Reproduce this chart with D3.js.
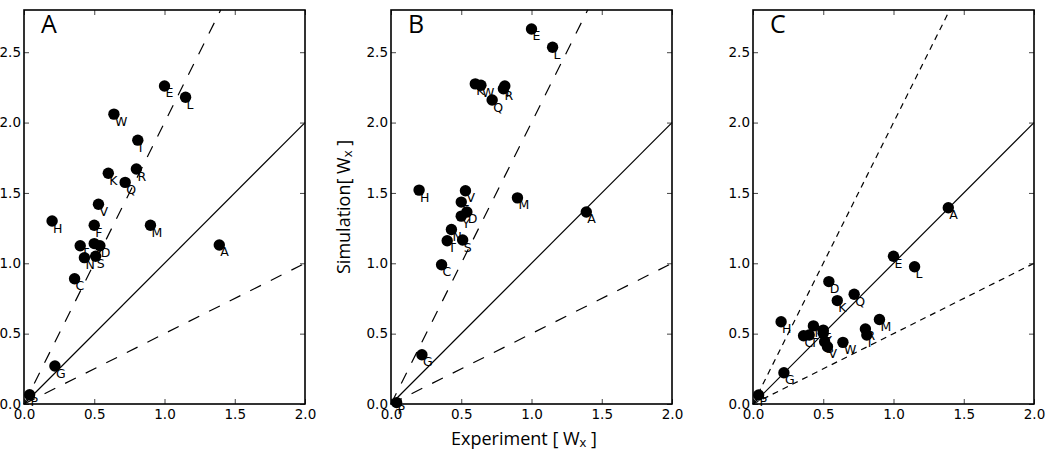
<!DOCTYPE html>
<html>
<head>
<meta charset="utf-8">
<script src="https://cdn.jsdelivr.net/npm/d3@7"></script>
<style>
  html, body { margin: 0; padding: 0; background: #fff; }
  svg { display: block; }
</style>
</head>
<body>
<svg id="chart" width="1050" height="454"></svg>
<script>
// ---- data ----
const residues   = ["A","C","D","E","F","G","H","I","K","L","M","N","P","Q","R","S","T","V","W","Y"];
const experiment = [1.39,0.36,0.54,1.00,0.50,0.22,0.20,0.81,0.60,1.15,0.90,0.43,0.04,0.72,0.80,0.51,0.40,0.53,0.64,0.50];
const simA = [1.13,0.89,1.125,2.26,1.27,0.27,1.30,1.875,1.64,2.18,1.27,1.04,0.066,1.575,1.67,1.05,1.125,1.42,2.06,1.14];
const simB = [1.365,0.99,1.365,2.665,1.435,0.35,1.52,2.26,2.275,2.535,1.465,1.24,0.01,2.16,2.24,1.165,1.16,1.515,2.265,1.335];
const simC = [1.395,0.485,0.87,1.05,0.525,0.222,0.585,0.49,0.735,0.975,0.60,0.555,0.064,0.78,0.533,0.443,0.49,0.407,0.438,0.502];
const panelNames = ["A","B","C"];
const panelSims  = [simA, simB, simC];
const refSlopes  = [2, 1, 0.5];
const xTicks = [0, 0.5, 1.0, 1.5, 2.0];
const yTicks = [0, 0.5, 1.0, 1.5, 2.0, 2.5];
const xDomain = [0, 2];
const yDomain = [0, 2.8];

// ---- layout ----
const svg = d3.select("#chart");
const lefts = [24, 391, 753];
const pw = 281, plotTop = 10, plotBottom = 404;
const dashStyles = ["12,11", "12,11", "6,5"];
const tickFont = "'DejaVu Sans', sans-serif";

panelNames.forEach((name, pi) => {
  const x = d3.scaleLinear().domain(xDomain).range([lefts[pi], lefts[pi] + pw]);
  const y = d3.scaleLinear().domain(yDomain).range([plotBottom, plotTop]);
  const g = svg.append("g");

  // reference lines
  refSlopes.forEach(s => {
    const xEnd = Math.min(xDomain[1], yDomain[1] / s);
    g.append("line")
      .attr("x1", x(0)).attr("y1", y(0))
      .attr("x2", x(xEnd)).attr("y2", y(xEnd * s))
      .attr("stroke", "#000").attr("stroke-width", 1.2)
      .attr("stroke-dasharray", s === 1 ? null : dashStyles[pi]);
  });

  // axes (inward ticks on all sides)
  const fmt = d3.format(".1f");
  const axB = g.append("g").attr("transform", `translate(0,${plotBottom})`)
    .call(d3.axisBottom(x).tickValues(xTicks).tickFormat(fmt).tickSize(-5).tickPadding(5));
  const axL = g.append("g").attr("transform", `translate(${lefts[pi]},0)`)
    .call(d3.axisLeft(y).tickValues(yTicks).tickFormat(fmt).tickSize(-5).tickPadding(3));
  const axT = g.append("g").attr("transform", `translate(0,${plotTop})`)
    .call(d3.axisTop(x).tickValues(xTicks).tickFormat("").tickSize(-5));
  const axR = g.append("g").attr("transform", `translate(${lefts[pi] + pw},0)`)
    .call(d3.axisRight(y).tickValues(yTicks).tickFormat("").tickSize(-5));
  [axB, axL, axT, axR].forEach(a => {
    a.select(".domain").remove();
    a.selectAll(".tick line").attr("stroke", "#444").attr("stroke-width", 1);
    a.selectAll("text").attr("font-family", tickFont).attr("font-size", 13.5).attr("fill", "#000");
  });

  // frame
  g.append("rect")
    .attr("x", lefts[pi]).attr("y", plotTop)
    .attr("width", pw).attr("height", plotBottom - plotTop)
    .attr("fill", "none").attr("stroke", "#000").attr("stroke-width", 1.6);

  // points
  const sims = panelSims[pi];
  const pts = residues.map((r, i) => ({ r, ex: experiment[i], sim: sims[i] }));
  g.selectAll("circle.pt").data(pts).join("circle")
    .attr("class", "pt")
    .attr("cx", d => x(d.ex)).attr("cy", d => y(d.sim))
    .attr("r", 5.7).attr("fill", "#000");
  g.selectAll("text.lbl").data(pts).join("text")
    .attr("class", "lbl")
    .attr("x", d => x(d.ex) + 1).attr("y", d => y(d.sim) + 11.5)
    .attr("font-family", tickFont).attr("font-size", 12.5).attr("fill", "#000")
    .text(d => d.r);

  // panel letter
  g.append("text")
    .attr("x", lefts[pi] + 17).attr("y", 33)
    .attr("font-family", "'Open Sans', sans-serif").attr("font-size", 25)
    .attr("fill", "#000").text(name);
});

// axis titles
const labFont = "'Open Sans', sans-serif";
const xl = svg.append("text")
  .attr("x", 524).attr("y", 445).attr("text-anchor", "middle")
  .attr("font-family", labFont).attr("font-size", 18).attr("fill", "#000");
xl.append("tspan").text("Experiment [ W");
xl.append("tspan").attr("font-size", 13).attr("dy", 2).text("x");
xl.append("tspan").attr("dy", -2).text(" ]");

const yl = svg.append("text")
  .attr("transform", "translate(350,207) rotate(-90)").attr("text-anchor", "middle")
  .attr("font-family", labFont).attr("font-size", 18).attr("fill", "#000");
yl.append("tspan").text("Simulation[ W");
yl.append("tspan").attr("font-size", 13).attr("dy", 2).text("x");
yl.append("tspan").attr("dy", -2).text(" ]");
</script>
</body>
</html>
